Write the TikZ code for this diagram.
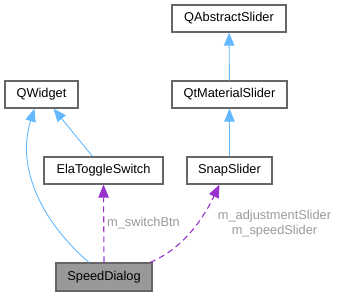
\documentclass[tikz,border=0pt]{standalone}
\usepackage{fontspec}
\setmainfont{Liberation Sans}
\usepackage{xcolor}
\usetikzlibrary{arrows.meta, positioning}
\definecolor{edgeblue}{HTML}{63B8FF}
\definecolor{memberpurple}{HTML}{9A32CD}
\definecolor{boxgray}{HTML}{666666}
\definecolor{labelgray}{HTML}{9A9A9A}

\begin{document}
\begin{tikzpicture}[
        x=1pt, y=-1pt,
        cls/.style={draw=boxgray, line width=1.2pt, fill=white, minimum height=27pt, inner sep=0pt, font=\fontsize{12.8}{15}\selectfont},
        inherit/.style={draw=edgeblue, line width=0.9pt, -{Triangle[length=13pt, width=10.5pt]}},
        member/.style={draw=memberpurple, line width=1.1pt, dash pattern=on 6pt off 4pt, -{Triangle[length=13pt, width=10.5pt]}},
        lbl/.style={text=labelgray, font=\fontsize{12.8}{15}\selectfont, inner sep=0pt, align=center}
    ]
        \useasboundingbox (0,0) rectangle (337,296);

        % Base classes
        \node[cls, minimum width=114pt] (abslider) at (229, 18.5) {QAbstractSlider};
        \node[cls, minimum width=115pt] (matslider) at (229.5, 94.5) {QtMaterialSlider};
        \node[cls, minimum width=73pt] (qwidget) at (41.5, 94.5) {QWidget};

        % Members
        \node[cls, minimum width=119pt] (toggle) at (103.5, 170.5) {ElaToggleSwitch};
        \node[cls, minimum width=85pt] (snap) at (229.5, 170.5) {SnapSlider};

        % Dialog
        \node[cls, fill=black!40, minimum width=96pt, minimum height=28pt] (dialog) at (104, 277) {SpeedDialog};

        % Inheritance
        \draw[inherit] (matslider) -- (abslider);
        \draw[inherit] (snap) -- (matslider);
        \draw[inherit] ([xshift=-11pt]toggle.north) -- ([xshift=12pt]qwidget.south);
        \draw[inherit] ([xshift=-15pt]dialog.north) .. controls (45,225) and (15,170) .. ([xshift=-7pt]qwidget.south);

        % Member links
        \draw[member] (dialog.north) -- (toggle.south);
        \draw[member] ([xshift=46pt]dialog.north) .. controls (185,248) and (205,215) .. ([xshift=-10pt]snap.south);

        % Labels
        \node[lbl, anchor=west] (switchlbl) at (107, 223) {m\_switchBtn};
        \node[lbl] (sliderlbl) at (274.5, 223.5) {m\_adjustmentSlider\\m\_speedSlider};
    \end{tikzpicture}
\end{document}
